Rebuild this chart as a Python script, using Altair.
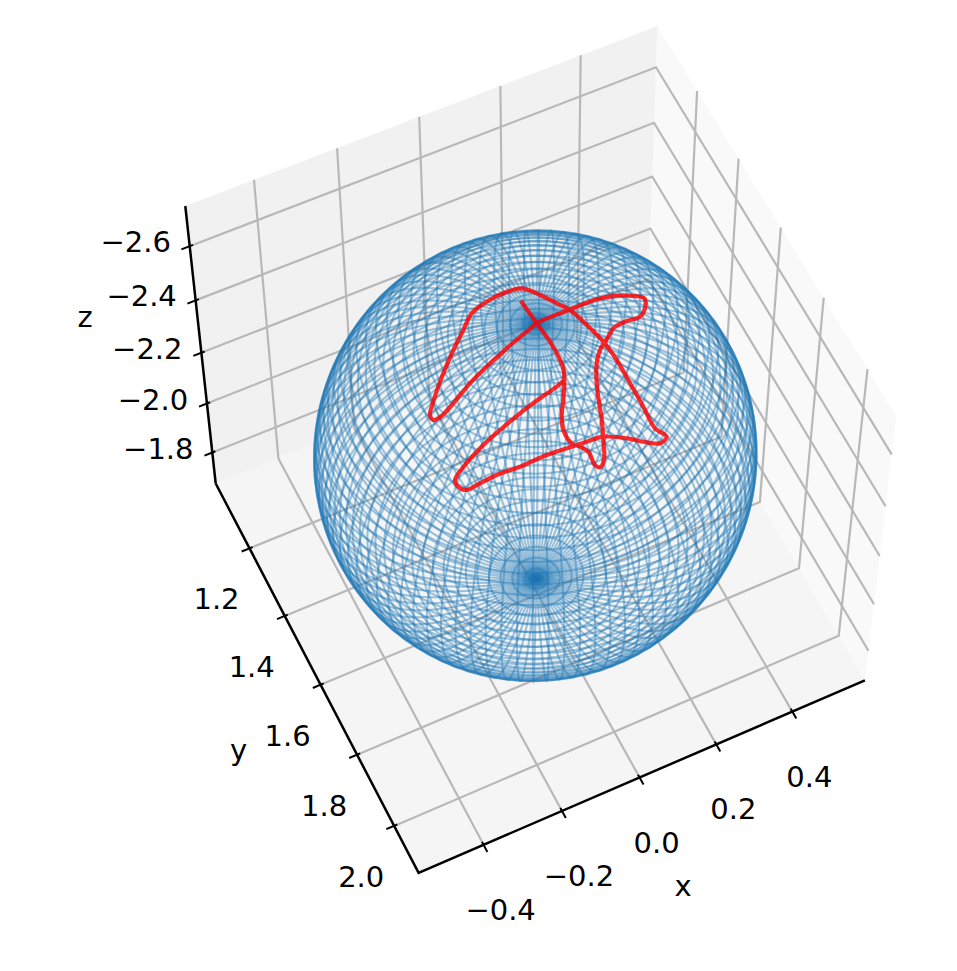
import numpy as np
import pandas as pd
import altair as alt

# axis limits and tick values
x_lim = [-0.564, 0.593]
y_lim = [1.005, 2.13]
z_lim = [-1.67, -2.744]      # bottom of box on screen, top of box on screen
x_ticks = [-0.4, -0.2, 0.0, 0.2, 0.4]
y_ticks = [1.2, 1.4, 1.6, 1.8, 2.0]
z_ticks = [-2.6, -2.4, -2.2, -2.0, -1.8]

# sphere
sphere_centre = [0.0, 1.59, -2.228]
sphere_radii = [0.503, 0.48, 0.505]
n_meridians = 90
n_parallels = 56

# red trajectory (3x zoom coordinates of the crop at 400,260)
curve_zx = [362, 410, 450, 478, 491, 493, 490, 485, 490, 515, 540, 565, 585, 600, 612, 610, 605, 596, 590, 590,
            600, 615, 628, 640, 675, 720, 735, 733, 700, 650, 590, 530, 480, 430, 410, 380, 320, 260, 210, 160,
            125, 100, 90, 100, 130, 165, 190, 215, 260, 310, 365, 420, 470, 510, 560, 610, 650, 690, 730, 765,
            800, 780, 740, 680, 610, 560, 510, 440, 360, 290, 230, 200, 175, 165, 195, 250, 300, 360, 420, 470, 493]
curve_zy = [122, 190, 245, 295, 330, 375, 420, 470, 510, 550, 560, 575, 615, 622, 600, 540, 480, 420, 370, 310,
            270, 245, 225, 205, 185, 170, 145, 115, 108, 107, 118, 140, 160, 180, 190, 215, 265, 320, 370, 430,
            468, 480, 465, 425, 340, 260, 210, 160, 125, 100, 85, 105, 130, 150, 195, 245, 300, 370, 440, 505,
            530, 550, 547, 535, 530, 545, 562, 585, 620, 645, 675, 690, 680, 660, 615, 555, 510, 460, 415, 380, 360]

# camera calibration: (x, y, z) of box points and where they lie in the picture
xa, xb = x_lim; ya, yb = y_lim; zb, zt = z_lim
calib = [
    (xa, ya, zb, 216, 483), (xa, yb, zb, 417, 870), (xb, yb, zb, 867, 680),
    (xa, ya, zt, 186, 206), (xb, ya, zt, 656, 25), (xb, yb, zt, 897, 417),
    (-0.4, yb, zb, 481, 844), (-0.2, yb, zb, 561, 811), (0.0, yb, zb, 639, 777), (0.2, yb, zb, 717, 744), (0.4, yb, zb, 793, 711),
    (xa, 1.2, zb, 252, 552), (xa, 1.4, zb, 286, 620), (xa, 1.6, zb, 321, 688), (xa, 1.8, zb, 357, 756), (xa, 2.0, zb, 393, 825),
    (xa, ya, -2.6, 188, 245), (xa, ya, -2.4, 195, 299), (xa, ya, -2.2, 202, 351), (xa, ya, -2.0, 208, 402), (xa, ya, -1.8, 213, 451),
    (xb, ya, -2.6, 655, 66), (xb, ya, -2.4, 653, 122), (xb, ya, -2.2, 651, 175), (xb, ya, -2.0, 648, 227),
    (xb, 1.2, zt, 699, 96), (xb, 1.4, zt, 740, 162), (xb, 1.6, zt, 781, 229), (xb, 1.8, zt, 824, 297), (xb, 2.0, zt, 868, 367),
]
A = []
for X, Y, Z, u, v in calib:
    u, v = u / 500, v / 500
    A.append([X, Y, Z, 1, 0, 0, 0, 0, -u * X, -u * Y, -u * Z, -u])
    A.append([0, 0, 0, 0, X, Y, Z, 1, -v * X, -v * Y, -v * Z, -v])
P = np.linalg.svd(np.array(A))[2][-1].reshape(3, 4)


def proj(X, Y, Z):
    X, Y, Z = np.asarray(X, float), np.asarray(Y, float), np.asarray(Z, float)
    h = np.stack([X, Y, Z, np.ones_like(X)])
    w = P @ h
    return 500 * w[0] / w[2], 500 * w[1] / w[2]


def lines_df(segments):
    rows = []
    for k, (X, Y, Z) in enumerate(segments):
        u, v = proj(X, Y, Z)
        for i, (a, b) in enumerate(zip(np.atleast_1d(u), np.atleast_1d(v))):
            rows.append({"u": round(float(a), 1), "v": round(float(b), 1), "id": k, "i": i})
    return pd.DataFrame(rows)


U = alt.Scale(domain=[8, 943], nice=False, zero=False)
V = alt.Scale(domain=[953, 8], nice=False, zero=False)
xe = alt.X("u:Q", scale=U, axis=None)
ye = alt.Y("v:Q", scale=V, axis=None)


def line_layer(df, **mark):
    return alt.Chart(df).mark_line(**mark).encode(xe, ye, detail="id:N", order="i:Q")


def pane(corners, fill):
    us, vs = proj(*np.array(corners).T)
    order = np.argsort(us)
    ux = us[order]
    poly = list(zip(us, vs)) + [(us[0], vs[0])]
    tops, bots = [], []
    for q in ux:
        ys = []
        for (a, b), (c, d) in zip(poly[:-1], poly[1:]):
            if min(a, c) - 1e-9 <= q <= max(a, c) + 1e-9 and abs(c - a) > 1e-9:
                ys.append(b + (d - b) * (q - a) / (c - a))
        tops.append(min(ys)); bots.append(max(ys))
    df = pd.DataFrame({"u": ux.round(1), "v": np.round(tops, 1), "v2": np.round(bots, 1)})
    return alt.Chart(df).mark_area(color=fill, opacity=1, interpolate="linear").encode(
        xe, ye, y2=alt.Y2("v2:Q"))


panes = [
    pane([(xb, ya, zb), (xb, ya, zt), (xb, yb, zt), (xb, yb, zb)], "#f9f9f9"),
    pane([(xa, ya, zb), (xa, ya, zt), (xb, ya, zt), (xb, ya, zb)], "#f1f1f1"),
    pane([(xa, ya, zb), (xa, yb, zb), (xb, yb, zb), (xb, ya, zb)], "#f5f5f5"),
]

grid = []
for t in x_ticks:
    grid.append(([t, t, t], [yb, ya, ya], [zb, zb, zt]))
for t in y_ticks:
    grid.append(([xa, xb, xb], [t, t, t], [zb, zb, zt]))
for t in z_ticks:
    grid.append(([xa, xb, xb], [ya, ya, yb], [t, t, t]))

spines = [([xa, xa, xb], [ya, yb, yb], [zb, zb, zb]), ([xa, xa], [ya, ya], [zb, zt])]

ticks = []
for t in x_ticks:
    ticks.append(([t, t], [yb + 0.02, yb - 0.008], [zb, zb]))
for t in y_ticks:
    ticks.append(([xa - 0.02, xa + 0.008], [t, t], [zb, zb]))
for t in z_ticks:
    ticks.append(([xa - 0.02, xa + 0.008], [ya, ya], [t, t]))

cx, cy, cz = sphere_centre
rx, ry, rz = sphere_radii
wire = []
lon = np.linspace(0, 2 * np.pi, n_meridians + 1)
lat = np.linspace(0, np.pi, n_parallels + 1)
for a in lon[:-1]:
    wire.append((cx + rx * np.cos(a) * np.sin(lat), cy + ry * np.sin(a) * np.sin(lat), cz + rz * np.cos(lat)))
lon_fine = np.linspace(0, 2 * np.pi, 73)
for b in lat[1:-1]:
    wire.append((cx + rx * np.cos(lon_fine) * np.sin(b), cy + ry * np.sin(lon_fine) * np.sin(b),
                 cz + rz * np.cos(b) * np.ones_like(lon_fine)))

curve = pd.DataFrame({"u": [round(400 + a / 3, 1) for a in curve_zx],
                      "v": [round(260 + b / 3, 1) for b in curve_zy],
                      "id": 0, "i": range(len(curve_zx))})


def labels(values, X, Y, Z, dx, dy):
    u, v = proj(X, Y, Z)
    df = pd.DataFrame({"u": u.round(1), "v": v.round(1),
                       "t": [f"{t:.1f}".replace("-", "\u2212") for t in values]})
    return alt.Chart(df).mark_text(font="DejaVu Sans", fontSize=29, color="#000000", dx=dx, dy=dy,
                                   align="center", baseline="middle").encode(xe, ye, text="t:N")


def axis_label(text, X, Y, Z, dx, dy):
    u, v = proj([X], [Y], [Z])
    df = pd.DataFrame({"u": u.round(1), "v": v.round(1), "t": [text]})
    return alt.Chart(df).mark_text(font="DejaVu Sans", fontSize=29, color="#000000", dx=dx, dy=dy,
                                   align="center", baseline="middle").encode(xe, ye, text="t:N")


n = len(x_ticks)
layers = panes + [
    line_layer(lines_df(grid), color="#b8b8b8", strokeWidth=2.2),
    line_layer(lines_df(wire), color="#1f77b4", strokeWidth=2.1, opacity=0.42),
    line_layer(curve, color="#ff0000", strokeWidth=4.2, opacity=0.82, interpolate="catmull-rom"),
    line_layer(lines_df(spines), color="#000000", strokeWidth=2.5),
    line_layer(lines_df(ticks), color="#000000", strokeWidth=2.0),
    labels(x_ticks, x_ticks, [yb] * n, [zb] * n, 17, 66),
    labels(y_ticks, [xa] * n, y_ticks, [zb] * n, -33, 52),
    labels(z_ticks, [xa] * n, [ya] * n, z_ticks, -54, -3),
    axis_label("x", (xa + xb) / 2, yb, zb, 38, 112),
    axis_label("y", xa, (ya + yb) / 2, zb, -76, 77),
    axis_label("z", xa, ya, (zb + zt) / 2, -116, -33),
]

chart = alt.layer(*layers).properties(
    width=935, height=945, padding=0,
    autosize=alt.AutoSizeParams(type="none"),
).configure_view(stroke=None)

chart.save("out.html", embed_options={"renderer": "svg", "actions": False})
